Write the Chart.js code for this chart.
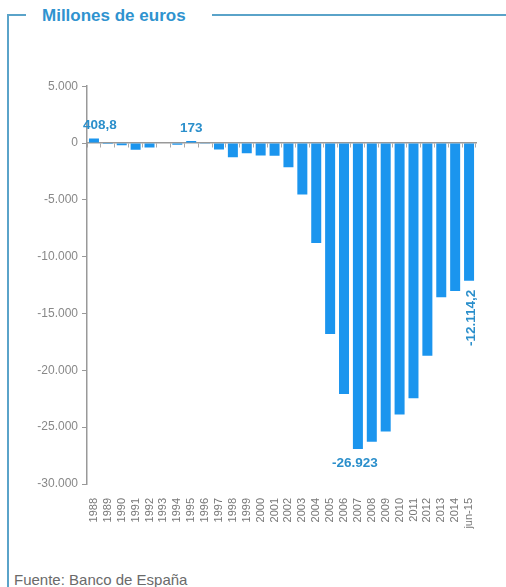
<!DOCTYPE html>
<html>
<head>
<meta charset="utf-8">
<script src="https://cdn.jsdelivr.net/npm/chart.js@4.4.1/dist/chart.umd.min.js"></script>
<style>
    html, body { margin: 0; padding: 0; background: #fff; }
    body { width: 506px; height: 587px; position: relative; overflow: hidden; font-family: "Liberation Sans", Arial, sans-serif; }
    .line { position: absolute; background: #5aa3c9; }
    .title { position: absolute; left: 42px; top: 6px; line-height: 20px; font-weight: bold; font-size: 17px; color: #2f93cf; }
    .source { position: absolute; left: 14px; top: 571px; line-height: 17px; font-size: 15px; color: #6a6a6a; }
    #wrap { position: absolute; left: 20px; top: 75px; width: 470px; height: 459px; }
</style>
</head>
<body>
<div class="line" style="left:7px;top:14px;width:2px;height:580px;"></div>
<div class="line" style="left:7px;top:14px;width:19px;height:2px;"></div>
<div class="line" style="left:212px;top:14px;width:300px;height:2px;"></div>
<div class="title">Millones de euros</div>
<div id="wrap"><canvas id="saldoChart"></canvas></div>
<div class="source">Fuente: Banco de España</div>

<script>
// categorias y valores (millones de euros)
const years = ['1988', '1989', '1990', '1991', '1992', '1993', '1994', '1995', '1996', '1997',
    '1998', '1999', '2000', '2001', '2002', '2003', '2004', '2005', '2006', '2007',
    '2008', '2009', '2010', '2011', '2012', '2013', '2014', 'jun-15'];
const saldo = [408.8, -80, -200, -600, -400, -50, -150, 173, -30, -580,
    -1250, -900, -1100, -1130, -2130, -4520, -8800, -16810, -22090, -26923,
    -26280, -25380, -23890, -22460, -18710, -13580, -13020, -12114.2];
const yMin = -30000;
const yMax = 5000;
const yStep = 5000;
// barras con etiqueta de valor
const labelIndex = [0, 7, 19, 27];

// formato español: 26.923 / 408,8
function fmt(v) {
    const neg = v < 0;
    const parts = Math.abs(v).toString().split('.');
    const int = parts[0].replace(/\B(?=(\d{3})+(?!\d))/g, '.');
    return (neg ? '-' : '') + int + (parts[1] ? ',' + parts[1] : '');
}

const valueLabels = {
    id: 'valueLabels',
    afterDatasetsDraw(chart) {
        const ctx = chart.ctx;
        const meta = chart.getDatasetMeta(0);
        const area = chart.chartArea;
        ctx.save();
        ctx.font = 'bold 13.5px "Liberation Sans", Arial, sans-serif';
        ctx.fillStyle = '#2b8fcb';
        labelIndex.forEach(i => {
            const bar = meta.data[i];
            const text = fmt(saldo[i]);
            const w = ctx.measureText(text).width;
            if (i === years.length - 1) {
                // ultima barra: etiqueta vertical
                ctx.save();
                ctx.translate(bar.x + 2, bar.y + 9);
                ctx.rotate(-Math.PI / 2);
                ctx.textAlign = 'right';
                ctx.textBaseline = 'middle';
                ctx.fillText(text, 0, 0);
                ctx.restore();
            } else if (saldo[i] >= 0) {
                ctx.textAlign = 'center';
                ctx.textBaseline = 'bottom';
                const x = Math.max(bar.x, area.left + w / 2 - 4);
                ctx.fillText(text, x, bar.y - 6);
            } else {
                ctx.textAlign = 'center';
                ctx.textBaseline = 'top';
                ctx.fillText(text, bar.x - 3, bar.y + 8);
            }
        });
        ctx.restore();
    }
};

const ctx = document.getElementById('saldoChart');
new Chart(ctx, {
    type: 'bar',
    data: {
        labels: years,
        datasets: [{
            label: 'Millones de euros',
            data: saldo,
            backgroundColor: '#1b95ee',
            borderWidth: 0,
            barPercentage: 0.72,
            categoryPercentage: 1,
            xAxisID: 'x',
            yAxisID: 'y'
        }]
    },
    options: {
        responsive: true,
        maintainAspectRatio: false,
        animation: false,
        layout: {
            padding: { top: 8, right: 14, left: 0, bottom: 0 }
        },
        plugins: {
            legend: { display: false },
            tooltip: { enabled: false }
        },
        scales: {
            x: {
                type: 'category',
                offset: true,
                grid: { display: false },
                border: { display: false },
                ticks: {
                    autoSkip: false,
                    minRotation: 90,
                    maxRotation: 90,
                    padding: 6,
                    color: '#777',
                    font: { family: '"Liberation Sans", Arial, sans-serif', size: 11 }
                },
                afterFit(scale) { scale.height = 50; }
            },
            // linea del cero con marcas
            x0: {
                type: 'category',
                position: { y: 0 },
                offset: true,
                grid: { offset: true, drawOnChartArea: false, tickLength: 4, color: '#aaa' },
                border: { color: '#999', width: 1.5 },
                ticks: { display: false }
            },
            y: {
                min: yMin,
                max: yMax,
                grid: { drawOnChartArea: false, tickLength: 5, tickColor: '#999' },
                border: { color: '#999', width: 1.5 },
                ticks: {
                    stepSize: yStep,
                    padding: 4,
                    color: '#888',
                    font: { family: '"Liberation Sans", Arial, sans-serif', size: 12 },
                    callback: v => fmt(v)
                },
                afterFit(scale) { scale.width = 67; }
            }
        }
    },
    plugins: [valueLabels]
});
</script>
</body>
</html>
